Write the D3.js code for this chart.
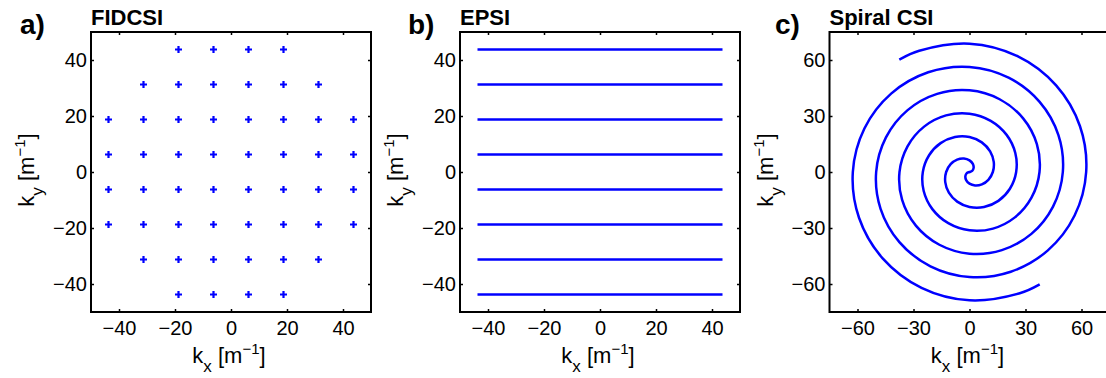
<!DOCTYPE html>
<html>
<head>
<meta charset="utf-8">
<script src="https://cdn.jsdelivr.net/npm/d3@7"></script>
<style>
  html, body { margin: 0; padding: 0; background: #fff; overflow: hidden; }
  text { font-family: "Liberation Sans", Arial, Helvetica, sans-serif; fill: #000; }
</style>
</head>
<body>
<svg id="chart" width="1106" height="378"></svg>
<script>
// ---------------- data ----------------
const ticksAB = [-40, -20, 0, 20, 40];
const ticksC = [-60, -30, 0, 30, 60];

// a) FIDCSI sampling points: rows of ky with their kx positions
const fidKy = [43.75, 31.25, 18.75, 6.25, -6.25, -18.75, -31.25, -43.75];
const fidKx = [
  [-18.75, -6.25, 6.25, 18.75],
  [-31.25, -18.75, -6.25, 6.25, 18.75, 31.25],
  [-43.75, -31.25, -18.75, -6.25, 6.25, 18.75, 31.25, 43.75],
  [-43.75, -31.25, -18.75, -6.25, 6.25, 18.75, 31.25, 43.75],
  [-43.75, -31.25, -18.75, -6.25, 6.25, 18.75, 31.25, 43.75],
  [-43.75, -31.25, -18.75, -6.25, 6.25, 18.75, 31.25, 43.75],
  [-31.25, -18.75, -6.25, 6.25, 18.75, 31.25],
  [-18.75, -6.25, 6.25, 18.75]
];

// b) EPSI readout lines
const epsiKy = [43.75, 31.25, 18.75, 6.25, -6.25, -18.75, -31.25, -43.75];
const epsiKxStart = [-43.75, -43.75, -43.75, -43.75, -43.75, -43.75, -43.75, -43.75];
const epsiKxEnd = [43.75, 43.75, 43.75, 43.75, 43.75, 43.75, 43.75, 43.75];

// c) Spiral trajectory, two arms from the centre outwards [kx, ky]
const spiralArmB = [
  [0, 0], [1.44, 0.60], [2.21, 2.21], [1.79, 4.33], [0, 6.25], [-2.99, 7.22],
  [-6.63, 6.63], [-10.10, 4.19], [-12.5, 0], [-12.99, -5.38], [-11.05, -11.05],
  [-6.58, -15.88], [0, -18.75], [7.77, -18.77], [15.47, -15.47], [21.65, -8.97],
  [25, 0], [24.54, 10.17], [19.89, 19.89], [11.36, 27.43], [0, 31.25],
  [-12.56, 30.31], [-24.31, 24.31], [-33.20, 13.75], [-37.5, 0], [-36.09, -14.95],
  [-28.73, -28.73], [-16.14, -38.98], [0, -43.75], [17.34, -41.86], [33.15, -33.15],
  [44.75, -18.54], [50, 0], [47.64, 19.73], [37.56, 37.56], [20.93, 50.52],
  [0, 56.25], [-22.12, 53.41], [-41.98, 41.98], [-56.30, 23.32], [-62.5, 0],
  [-59.19, -24.52], [-46.40, -46.40], [-25.71, -62.07], [0, -68.75], [26.91, -64.96],
  [37.6, -60.2]
];
const spiralArmA = [
  [0, 0], [-1.44, -0.60], [-2.21, -2.21], [-1.79, -4.33], [0, -6.25], [2.99, -7.22],
  [6.63, -6.63], [10.10, -4.19], [12.5, 0], [12.99, 5.38], [11.05, 11.05],
  [6.58, 15.88], [0, 18.75], [-7.77, 18.77], [-15.47, 15.47], [-21.65, 8.97],
  [-25, 0], [-24.54, -10.17], [-19.89, -19.89], [-11.36, -27.43], [0, -31.25],
  [12.56, -30.31], [24.31, -24.31], [33.20, -13.75], [37.5, 0], [36.09, 14.95],
  [28.73, 28.73], [16.14, 38.98], [0, 43.75], [-17.34, 41.86], [-33.15, 33.15],
  [-44.75, 18.54], [-50, 0], [-47.64, -19.73], [-37.56, -37.56], [-20.93, -50.52],
  [0, -56.25], [22.12, -53.41], [41.98, -41.98], [56.30, -23.32], [62.5, 0],
  [59.19, 24.52], [46.40, 46.40], [25.71, 62.07], [0, 68.75], [-26.91, 64.96],
  [-37.6, 60.2]
];

const panelTitles = ["FIDCSI", "EPSI", "Spiral CSI"];
const panelLetters = ["a)", "b)", "c)"];

// ---------------- layout ----------------
const svg = d3.select("#chart");
const BLUE = "#0000ff";
const plotTop = 32, plotSize = 280;
const panels = [
  { left: 91,  domain: [-50, 50], ticks: ticksAB, letterX: 20 },
  { left: 460, domain: [-50, 50], ticks: ticksAB, letterX: 408 },
  { left: 829.5, domain: [-75, 75], ticks: ticksC, letterX: 775 }
];

const TICK_FONT = 20, LABEL_FONT = 22;

panels.forEach((p, i) => {
  const x = d3.scaleLinear().domain(p.domain).range([p.left, p.left + plotSize]);
  const y = d3.scaleLinear().domain(p.domain).range([plotTop + plotSize, plotTop]);
  p.x = x; p.y = y;
  const g = svg.append("g");

  const fmt = d => d < 0 ? "\u2212" + Math.abs(d) : String(d);

  const axB = g.append("g").attr("transform", `translate(0,${plotTop + plotSize})`)
    .call(d3.axisBottom(x).tickValues(p.ticks).tickSize(-3).tickSizeOuter(0).tickPadding(9).tickFormat(fmt));
  const axL = g.append("g").attr("transform", `translate(${p.left},0)`)
    .call(d3.axisLeft(y).tickValues(p.ticks).tickSize(-3).tickSizeOuter(0).tickPadding(4).tickFormat(fmt));
  const axT = g.append("g").attr("transform", `translate(0,${plotTop})`)
    .call(d3.axisTop(x).tickValues(p.ticks).tickSize(-3).tickSizeOuter(0).tickFormat(""));
  const axR = g.append("g").attr("transform", `translate(${p.left + plotSize},0)`)
    .call(d3.axisRight(y).tickValues(p.ticks).tickSize(-3).tickSizeOuter(0).tickFormat(""));
  [axB, axL, axT, axR].forEach(a => {
    a.select(".domain").remove();
    a.selectAll(".tick line").attr("stroke", "#000").attr("stroke-width", 1.5);
    a.selectAll(".tick text").attr("font-size", TICK_FONT)
      .attr("font-family", '"Liberation Sans", Arial, sans-serif').attr("fill", "#000");
  });

  // box
  g.append("rect").attr("x", p.left).attr("y", plotTop).attr("width", plotSize).attr("height", plotSize)
    .attr("fill", "none").attr("stroke", "#000").attr("stroke-width", 2);

  // title & letter
  g.append("text").attr("x", p.left).attr("y", 25)
    .attr("font-size", 22).attr("font-weight", "bold").text(panelTitles[i]);
  g.append("text").attr("x", p.letterX).attr("y", 34)
    .attr("font-size", 28).attr("font-weight", "bold").text(panelLetters[i]);

  // x label
  const xl = g.append("text").attr("x", p.left + plotSize / 2 - 2).attr("y", 363)
    .attr("text-anchor", "middle").attr("font-size", LABEL_FONT);
  xl.append("tspan").text("k");
  xl.append("tspan").attr("font-size", 17).attr("dy", 9).text("x");
  xl.append("tspan").attr("dy", -9).text(" [m");
  xl.append("tspan").attr("font-size", 15).attr("dy", -9).text("\u22121");
  xl.append("tspan").attr("dy", 9).text("]");

  // y label
  const yl = g.append("text")
    .attr("transform", `translate(${p.left - 57},${plotTop + plotSize / 2 - 2}) rotate(-90)`)
    .attr("text-anchor", "middle").attr("font-size", LABEL_FONT);
  yl.append("tspan").text("k");
  yl.append("tspan").attr("font-size", 17).attr("dy", 9).text("y");
  yl.append("tspan").attr("dy", -9).text(" [m");
  yl.append("tspan").attr("font-size", 15).attr("dy", -9).text("\u22121");
  yl.append("tspan").attr("dy", 9).text("]");
});

// a) plus markers
{
  const p = panels[0];
  const pts = [];
  fidKy.forEach((ky, r) => fidKx[r].forEach(kx => pts.push([kx, ky])));
  const h = 3.5;
  const mk = svg.append("g").attr("stroke", BLUE).attr("stroke-width", 2.2);
  mk.selectAll("path").data(pts).join("path")
    .attr("d", d => {
      const cx = p.x(d[0]), cy = p.y(d[1]);
      return `M${cx - h},${cy}H${cx + h}M${cx},${cy - h}V${cy + h}`;
    });
}

// b) EPSI lines
{
  const p = panels[1];
  const line = d3.line().x(d => p.x(d[0])).y(d => p.y(d[1]));
  svg.append("g").selectAll("path").data(epsiKy.map((ky, i) => [[epsiKxStart[i], ky], [epsiKxEnd[i], ky]]))
    .join("path").attr("d", line).attr("fill", "none").attr("stroke", BLUE).attr("stroke-width", 2.4);
}

// c) spiral
{
  const p = panels[2];
  const pts = spiralArmA.slice().reverse().concat(spiralArmB.slice(1));
  const line = d3.line().x(d => p.x(d[0])).y(d => p.y(d[1])).curve(d3.curveCatmullRom.alpha(0.5));
  svg.append("path").datum(pts).attr("d", line).attr("fill", "none")
    .attr("stroke", BLUE).attr("stroke-width", 2.5);
}
</script>
</body>
</html>
